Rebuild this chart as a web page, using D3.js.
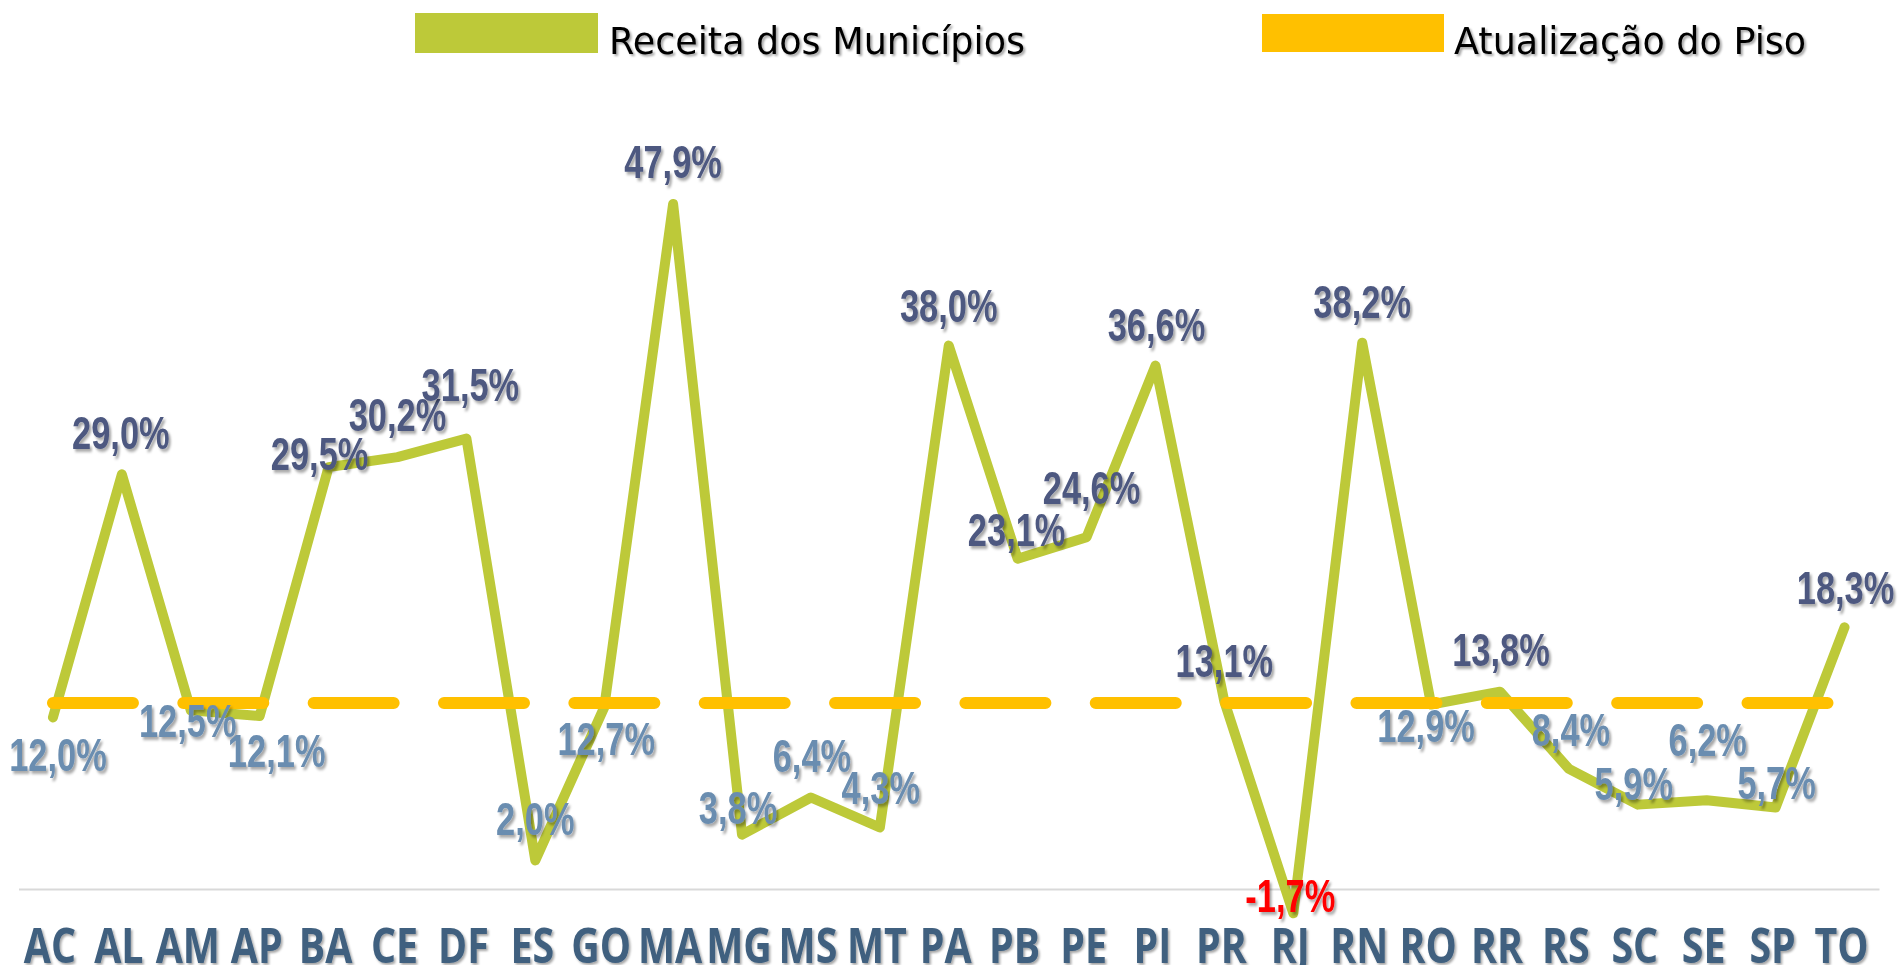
<!DOCTYPE html>
<html>
<head>
<meta charset="utf-8">
<script src="https://cdn.jsdelivr.net/npm/d3@7"></script>
<style>
  html, body { margin: 0; padding: 0; background: #ffffff; }
  svg { display: block; }
</style>
</head>
<body>
<svg id="chart" width="1903" height="965"></svg>
<script>
// ---------- data ----------
const categories = ["AC","AL","AM","AP","BA","CE","DF","ES","GO","MA","MG","MS","MT","PA","PB","PE","PI","PR","RJ","RN","RO","RR","RS","SC","SE","SP","TO"];
const receitaMunicipios = [12.0,29.0,12.5,12.1,29.5,30.2,31.5,2.0,12.7,47.9,3.8,6.4,4.3,38.0,23.1,24.6,36.6,13.1,-1.7,38.2,12.9,13.8,8.4,5.9,6.2,5.7,18.3];
const atualizacaoPiso = [13.0,13.0,13.0,13.0,13.0,13.0,13.0,13.0,13.0,13.0,13.0,13.0,13.0,13.0,13.0,13.0,13.0,13.0,13.0,13.0,13.0,13.0,13.0,13.0,13.0,13.0,13.0];
const seriesNames = ["Receita dos Municípios", "Atualização do Piso"];

// ---------- layout (label placement, not data) ----------
const labelOffsets = [
  [5,54],[-1,-25],[-3,27],[17,51],[-9,3],[0,-26],[4,-38],[0,-25],[2,48],[0,-26],
  [-4,-11],[1,-25],[1,-24],[0,-24],[-1,-13],[5,-33],[1,-25],[0,-25],[-3,-1],[0,-25],
  [-5,37],[1,-26],[2,-23],[-4,-5],[1,-44],[1,-8],[1,-23]
];

const GREEN = "#bdc939", GOLD = "#ffc000";
const DARK = "#4d5880", LIGHT = "#6a8db0", RED = "#ff0000";

const svg = d3.select("#chart");
const defs = svg.append("defs");
defs.append("filter").attr("id","sh").attr("x","-20%").attr("y","-20%").attr("width","150%").attr("height","160%")
  .append("feDropShadow").attr("dx",2.5).attr("dy",2.5).attr("stdDeviation",1.3)
  .attr("flood-color","#000").attr("flood-opacity",0.35);
defs.append("filter").attr("id","sh2").attr("x","-20%").attr("y","-20%").attr("width","150%").attr("height","160%")
  .append("feDropShadow").attr("dx",2).attr("dy",2).attr("stdDeviation",1)
  .attr("flood-color","#000").attr("flood-opacity",0.35);

const x = d3.scaleBand().domain(categories).range([18.5, 1879]).paddingInner(0).paddingOuter(0);
const y = d3.scaleLinear().domain([0, 50]).range([889, 174]);
const cx = c => x(c) + x.bandwidth() / 2;

// ---------- axis ----------
const axis = svg.append("g").attr("transform", `translate(0,${y(0)})`)
  .call(d3.axisBottom(x).tickSize(0).tickSizeOuter(0));
axis.select(".domain").attr("stroke", "#d9d9d9").attr("stroke-width", 2);
axis.selectAll(".tick text")
  .attr("dy", null).attr("y", 74)
  .attr("transform", "translate(-3,0) scale(0.82,1)")
  .attr("fill", "#40607f")
  .style("font-family", "'Open Sans', 'DejaVu Sans', sans-serif")
  .style("font-weight", 700)
  .style("font-size", "48px")
  .attr("filter", "url(#sh2)");

// ---------- series lines ----------
const lineGen = d3.line().x((d, i) => cx(categories[i])).y(d => y(d));

svg.append("path").datum(receitaMunicipios)
  .attr("d", lineGen)
  .attr("fill", "none").attr("stroke", GREEN).attr("stroke-width", 10)
  .attr("stroke-linejoin", "round").attr("stroke-linecap", "round");

svg.append("path").datum(atualizacaoPiso)
  .attr("d", lineGen)
  .attr("fill", "none").attr("stroke", GOLD).attr("stroke-width", 12)
  .attr("stroke-dasharray", "80 50.35")
  .attr("stroke-linecap", "round");

// ---------- data labels ----------
const fmt = v => v.toFixed(1).replace(".", ",") + "%";
svg.append("g").selectAll("text").data(receitaMunicipios).join("text")
  .attr("transform", (d, i) => {
    const px = cx(categories[i]) + labelOffsets[i][0];
    const py = y(d) + labelOffsets[i][1];
    return `translate(${px},${py}) scale(0.82,1.12)`;
  })
  .attr("text-anchor", "middle")
  .attr("fill", (d, i) => d < 0 ? RED : (d > atualizacaoPiso[i] ? DARK : LIGHT))
  .style("font-family", "'Liberation Sans', Arial, sans-serif")
  .style("font-weight", 700)
  .style("font-size", "42px")
  .attr("filter", "url(#sh)")
  .text(d => fmt(d));

// ---------- legend ----------
const legendItems = [
  { name: seriesNames[0], color: GREEN, rx: 415, ry: 13, rw: 183, rh: 40, tx: 609 },
  { name: seriesNames[1], color: GOLD, rx: 1262, ry: 14, rw: 182, rh: 38, tx: 1454 }
];
const lg = svg.append("g").selectAll("g").data(legendItems).join("g");
lg.append("rect")
  .attr("x", d => d.rx).attr("y", d => d.ry).attr("width", d => d.rw).attr("height", d => d.rh)
  .attr("fill", d => d.color);
lg.append("text")
  .attr("x", d => d.tx).attr("y", 54)
  .attr("fill", "#000")
  .style("font-family", "'DejaVu Sans', sans-serif")
  .style("font-size", "36.5px")
  .style("font-weight", 500)
  .attr("filter", "url(#sh2)")
  .text(d => d.name);
</script>
</body>
</html>
